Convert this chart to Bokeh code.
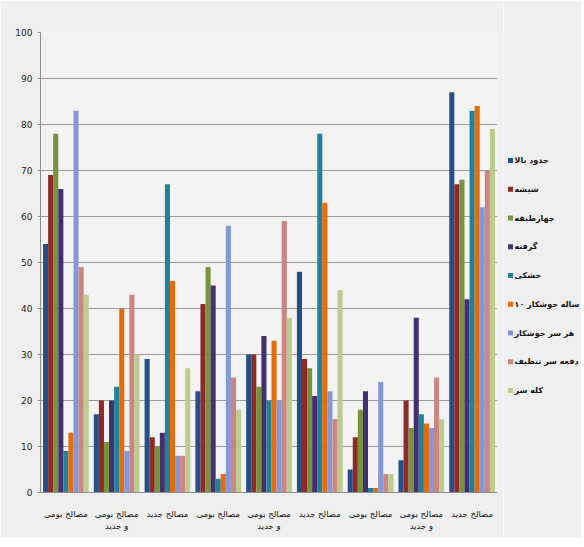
from bokeh.plotting import figure
from bokeh.models import ColumnDataSource, Range1d, FixedTicker
from bokeh.layouts import row
from bokeh.transform import dodge
from bokeh.core.properties import value
from bokeh.embed import file_html
from bokeh.resources import INLINE

# ---- data ----
category_labels = ["مصالح بومی", "مصالح بومی\nو جدید", "مصالح جدید",
                   "مصالح بومی", "مصالح بومی\nو جدید", "مصالح جدید",
                   "مصالح بومی", "مصالح بومی\nو جدید", "مصالح جدید"]

series_names = ["حدود بالا", "شیشه", "چهارطبقه", "گرفته", "خشکی",
                "۱۰ ساله جوشکار", "هر سر جوشکار", "دفعه سر تنظیف", "کله سر"]

s1 = [54, 17, 29, 22, 30, 48, 5, 7, 87]
s2 = [69, 20, 12, 41, 30, 29, 12, 20, 67]
s3 = [78, 11, 10, 49, 23, 27, 18, 14, 68]
s4 = [66, 20, 13, 45, 34, 21, 22, 38, 42]
s5 = [9, 23, 67, 3, 20, 78, 1, 17, 83]
s6 = [13, 40, 46, 4, 33, 63, 1, 15, 84]
s7 = [83, 9, 8, 58, 20, 22, 24, 14, 62]
s8 = [49, 43, 8, 25, 59, 16, 4, 25, 70]
s9 = [43, 30, 27, 18, 38, 44, 4, 16, 79]

y_ticks = [0, 10, 20, 30, 40, 50, 60, 70, 80, 90, 100]

series_values = [s1, s2, s3, s4, s5, s6, s7, s8, s9]
colors = ["#24508a", "#8e2a28", "#77933c", "#43306e", "#22809a",
          "#e46c0a", "#8497d6", "#cd8581", "#bccb8e"]

BG = "#efefef"
TOP, FH, BOT = 32, 460, 46
H = TOP + FH + BOT
xpos = list(range(1, len(category_labels) + 1))
data = {"xi": xpos}
for i, vals in enumerate(series_values):
    data[f"s{i+1}"] = vals
source = ColumnDataSource(data)

p = figure(x_range=Range1d(0.5, len(category_labels) + 0.5), y_range=Range1d(0, 100),
           frame_width=457, frame_height=FH, output_backend="svg", toolbar_location=None,
           background_fill_color="#f3f3f3", border_fill_color=BG)
p.min_border_left = 40
p.min_border_top = TOP
p.min_border_bottom = BOT
p.min_border_right = 6
p.outline_line_color = None

bw = 0.1
for i in range(9):
    off = (i - 4) * bw
    p.vbar(x=dodge("xi", off), top=f"s{i+1}", width=bw,
           source=source, fill_color=colors[i], line_color=None)

p.yaxis.ticker = FixedTicker(ticks=y_ticks)
p.yaxis.major_label_text_font_size = "9px"
p.yaxis.major_label_text_font = "DejaVu Sans"
p.yaxis.major_label_text_color = "#222222"
p.yaxis.axis_line_color = "#8c8c8c"
p.yaxis.major_tick_line_color = "#8c8c8c"
p.yaxis.major_tick_out = 3
p.yaxis.major_tick_in = 0
p.yaxis.minor_tick_line_color = None

p.xaxis.ticker = FixedTicker(ticks=xpos)
p.xaxis.major_label_overrides = {x: lab for x, lab in zip(xpos, category_labels)}
p.xaxis.major_label_text_font_size = "8.5px"
p.xaxis.major_label_text_font = "DejaVu Sans"
p.xaxis.major_label_text_color = "#111111"
p.xaxis.axis_line_color = "#8c8c8c"
p.xaxis.major_tick_line_color = None
p.xaxis.minor_tick_line_color = None
p.xaxis.major_label_standoff = 10

p.xgrid.grid_line_color = None
p.ygrid.grid_line_color = "#9a9a9a"
p.ygrid.grid_line_width = 1

# ---- legend panel (separate figure on the right; its frame aligns with the main frame) ----
step = 28.75          # pixels between legend rows
first = 160.0         # pixel row of first entry (page coords)
W = 78
lg = figure(width=W, height=H, output_backend="svg", toolbar_location=None,
            x_axis_location=None, y_axis_location=None,
            background_fill_color=BG, border_fill_color=BG,
            x_range=Range1d(0, W),
            y_range=Range1d((TOP + FH - first) / step, -(first - TOP) / step))
lg.min_border_left = 0
lg.min_border_right = 0
lg.min_border_top = TOP
lg.min_border_bottom = BOT
lg.outline_line_color = None
lg.xgrid.grid_line_color = None
lg.ygrid.grid_line_color = None

leg_src = ColumnDataSource(dict(row=list(range(len(series_names))),
                                name=series_names, color=colors))
lg.scatter(x=7, y="row", marker="square", size=5, fill_color="color",
           line_color=None, source=leg_src)
lg.text(x=11, y="row", text="name", source=leg_src, text_align="left",
        text_baseline="middle", text_font=value("DejaVu Sans"),
        text_font_size="8px", text_font_style="bold", text_color="#111111")

layout = row(p, lg)
open("out.html", "w").write(file_html(layout, INLINE))
